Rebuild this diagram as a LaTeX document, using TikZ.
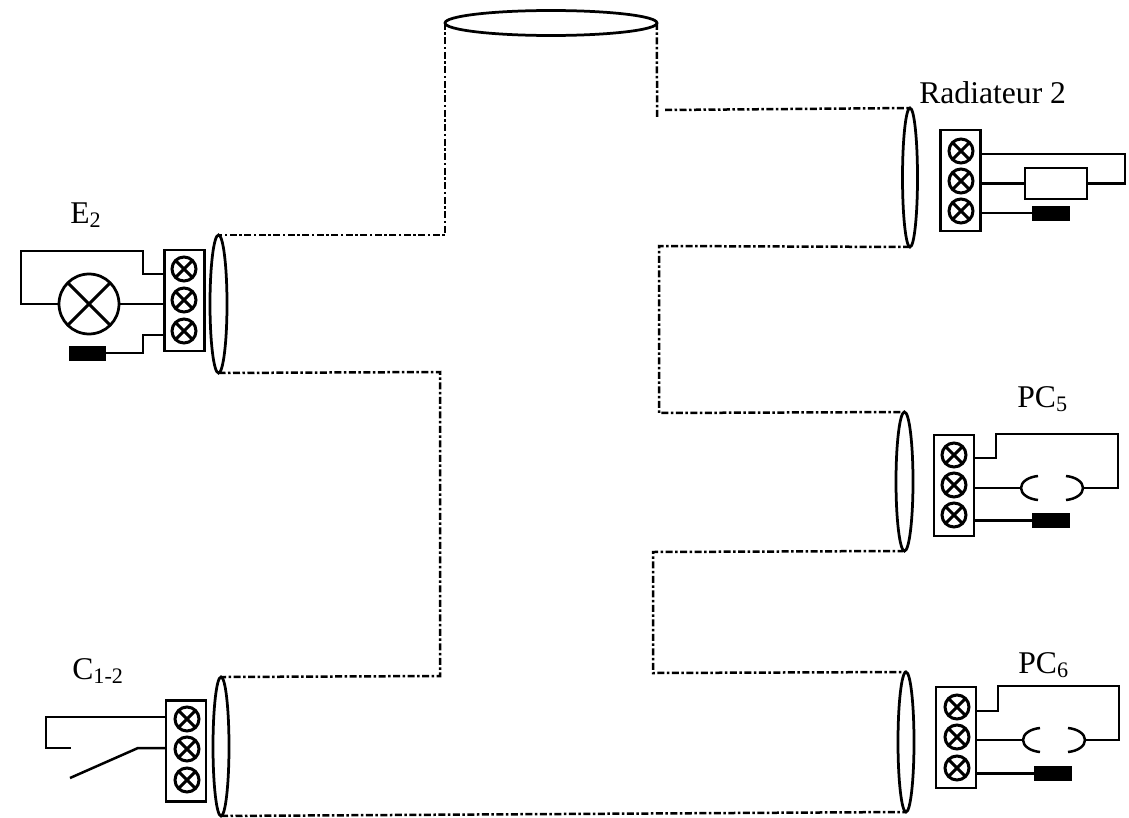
\documentclass[tikz,border=0pt]{standalone}
\usepackage{fontspec}
\setmainfont{Liberation Serif}
\usetikzlibrary{shapes.geometric}
\tikzset{
  cable/.style={line width=0.05cm, dash pattern=on 0.14cm off 0.05cm on 0.05cm off 0.05cm},
  wire/.style={line width=0.05cm},
  sheath/.style={ellipse, draw, line width=0.055cm, inner sep=0pt, outer sep=0pt},
  block/.style={rectangle, draw, line width=0.05cm, inner sep=0pt, outer sep=0pt, minimum width=0.8cm, minimum height=2.02cm},
  crossed/.style={circle, draw, line width=0.06cm, inner sep=0pt, outer sep=0pt,
    path picture={\draw[line width=0.06cm] (path picture bounding box.north west) -- (path picture bounding box.south east);
      \draw[line width=0.06cm] (path picture bounding box.north east) -- (path picture bounding box.south west);}},
  terminal/.style={crossed, minimum size=0.48cm},
  lamp/.style={crossed, minimum size=1.2cm, line width=0.055cm},
  resistor/.style={rectangle, draw, line width=0.05cm, inner sep=0pt, outer sep=0pt, minimum width=1.24cm, minimum height=0.62cm},
  plug/.style={rectangle, fill=black, inner sep=0pt, outer sep=0pt, minimum width=0.76cm, minimum height=0.3cm},
  label/.style={anchor=base west, inner sep=0pt, font=\fontsize{18}{20}\selectfont}
}
\begin{document}
\begin{tikzpicture}[x=0.02cm, y=-0.02cm]
  \useasboundingbox (0,0) rectangle (1129,818);

  % sheaths
  \node[sheath, minimum width=4.24cm, minimum height=0.5cm] (sheathTop) at (551,23) {};
  \node[sheath, minimum width=0.34cm, minimum height=2.76cm] (sheathE) at (218.5,304) {};
  \node[sheath, minimum width=0.32cm, minimum height=2.78cm] (sheathC) at (221,746.5) {};
  \node[sheath, minimum width=0.30cm, minimum height=2.78cm] (sheathR) at (910,177.5) {};
  \node[sheath, minimum width=0.34cm, minimum height=2.78cm] (sheathPa) at (904.5,481.5) {};
  \node[sheath, minimum width=0.32cm, minimum height=2.80cm] (sheathPb) at (906,742) {};

  % cable between the sheaths
  \coordinate (bendA) at (440,372);
  \coordinate (bendB) at (440,676);
  \coordinate (bendC) at (657,118);
  \coordinate (bendD) at (665,110);
  \coordinate (bendE) at (659,246);
  \coordinate (bendF) at (659,413);
  \coordinate (bendG) at (653,552);
  \coordinate (bendH) at (653,673);
  \draw[cable] (sheathTop.west) |- (sheathE.north);
  \draw[cable] (sheathE.south) -- (bendA) -- (bendB) -- (sheathC.north);
  \draw[cable] (sheathC.south) -- (sheathPb.south);
  \draw[cable] (sheathTop.east) -- (bendC);
  \draw[cable] (bendD) -- (sheathR.north);
  \draw[cable] (sheathR.south) -- (bendE) -- (bendF) -- (sheathPa.north);
  \draw[cable] (sheathPa.south) -- (bendG) -- (bendH) -- (sheathPb.north);

  % lamp E2
  \node[label] (labelE) at (70,223) {E\textsubscript{2}};
  \node[block] (blockE) at (184.5,300.5) {};
  \node[terminal] (termEa) at (184,269) {};
  \node[terminal] (termEb) at (184,300) {};
  \node[terminal] (termEc) at (184,331) {};
  \node[lamp] (lampE) at (89,304) {};
  \node[plug] (plugE) at (87.5,353) {};
  \coordinate (wireEa) at (143,274);
  \coordinate (wireEb) at (21,251);
  \coordinate (wireEc) at (143,335);
  \draw[wire] (blockE.west |- wireEa) -- (wireEa) |- (wireEb) |- (lampE.west);
  \draw[wire] (lampE.east) -- (blockE.west |- lampE.east);
  \draw[wire] (blockE.west |- wireEc) -- (wireEc) |- (plugE.east);

  % switch C1-2
  \node[label] (labelC) at (72,679) {C\textsubscript{1-2}};
  \node[block] (blockC) at (186,751) {};
  \node[terminal] (termCa) at (187,719) {};
  \node[terminal] (termCb) at (187,749) {};
  \node[terminal] (termCc) at (187,780) {};
  \coordinate (wireCa) at (46,717);
  \coordinate (wireCb) at (71,748);
  \coordinate (wireCc) at (138,748);
  \coordinate (wireCd) at (70,778);
  \draw[wire] (blockC.west |- wireCa) -- (wireCa) |- (wireCb);
  \draw[wire] (blockC.west |- wireCc) -- (wireCc) -- (wireCd);

  % radiator
  \node[label] (labelR) at (919,103) {Radiateur 2};
  \node[block] (blockR) at (960.5,180.5) {};
  \node[terminal] (termRa) at (961,151) {};
  \node[terminal] (termRb) at (961,181) {};
  \node[terminal] (termRc) at (961,211) {};
  \node[resistor] (resR) at (1056,183.5) {};
  \node[plug] (plugR) at (1051,213) {};
  \coordinate (wireRa) at (1125,154);
  \draw[wire] (blockR.east |- wireRa) -- (wireRa) |- (resR.east);
  \draw[wire] (resR.west) -- (blockR.east |- resR.west);
  \draw[wire] (plugR.west) -- (blockR.east |- plugR.west);

  % PC5
  \node[label] (labelPa) at (1017,407) {PC\textsubscript{5}};
  \node[block] (blockPa) at (954,485.5) {};
  \node[terminal] (termPaa) at (954,455) {};
  \node[terminal] (termPab) at (954,485) {};
  \node[terminal] (termPac) at (954,515) {};
  \node[plug] (plugPa) at (1051,520.5) {};
  \coordinate (wirePaa) at (996,458);
  \coordinate (wirePab) at (1118,434);
  \coordinate (cupPaL) at (1021,488);
  \coordinate (cupPaR) at (1083,488);
  \draw[wire] (blockPa.east |- wirePaa) -- (wirePaa) |- (wirePab) |- (cupPaR);
  \draw[wire] (blockPa.east |- cupPaL) -- (cupPaL);
  \draw[wire] (1038,476) .. controls (1028,477) and (1021,482) .. (cupPaL) .. controls (1021,494) and (1028,499) .. (1038,500);
  \draw[wire] (1066,476) .. controls (1076,477) and (1083,482) .. (cupPaR) .. controls (1083,494) and (1076,499) .. (1066,500);
  \draw[wire] (plugPa.west) -- (blockPa.east |- plugPa.west);

  % PC6
  \node[label] (labelPb) at (1018,673) {PC\textsubscript{6}};
  \node[block] (blockPb) at (956,737.5) {};
  \node[terminal] (termPba) at (957,707) {};
  \node[terminal] (termPbb) at (957,737) {};
  \node[terminal] (termPbc) at (957,768) {};
  \node[plug] (plugPb) at (1053,773.5) {};
  \coordinate (wirePba) at (998,711);
  \coordinate (wirePbb) at (1119,686);
  \coordinate (cupPbL) at (1023,740);
  \coordinate (cupPbR) at (1085,740);
  \draw[wire] (blockPb.east |- wirePba) -- (wirePba) |- (wirePbb) |- (cupPbR);
  \draw[wire] (blockPb.east |- cupPbL) -- (cupPbL);
  \draw[wire] (1040,728) .. controls (1030,729) and (1023,734) .. (cupPbL) .. controls (1023,746) and (1030,751) .. (1040,752);
  \draw[wire] (1068,728) .. controls (1078,729) and (1085,734) .. (cupPbR) .. controls (1085,746) and (1078,751) .. (1068,752);
  \draw[wire] (plugPb.west) -- (blockPb.east |- plugPb.west);
\end{tikzpicture}
\end{document}
